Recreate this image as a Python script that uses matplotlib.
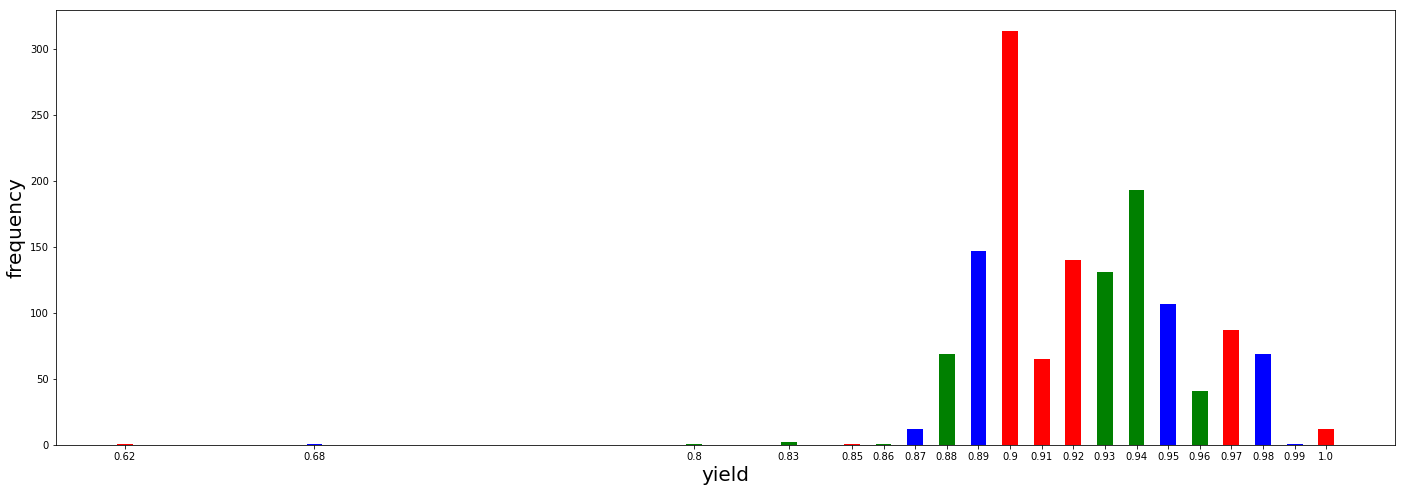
import matplotlib
matplotlib.use('Agg')
import matplotlib.pyplot as plt

# yield values and their frequencies
yields = [0.62, 0.68, 0.8, 0.83, 0.85, 0.86, 0.87, 0.88, 0.89, 0.9,
          0.91, 0.92, 0.93, 0.94, 0.95, 0.96, 0.97, 0.98, 0.99, 1.0]
counts = [1, 1, 1, 2, 1, 1, 12, 69, 147, 314,
          65, 140, 131, 193, 107, 41, 87, 69, 1, 12]
bar_colors = ['red', 'blue', 'green', 'green', 'red', 'green', 'blue', 'green', 'blue', 'red',
              'red', 'red', 'green', 'green', 'blue', 'green', 'red', 'blue', 'blue', 'red']
tick_labels = [str(y) for y in yields]

fig = plt.figure(figsize=(1406 / 72, 492 / 72), dpi=72)
ax = fig.add_axes([56 / 1406, 47 / 492, 1339 / 1406, 435 / 492])

ax.bar(yields, counts, width=0.005, color=bar_colors)
ax.set_xticks(yields)
ax.set_xticklabels(tick_labels, fontsize=10)
ax.tick_params(axis='y', labelsize=10)
ax.set_xlabel('yield', fontsize=20, labelpad=4)
ax.set_ylabel('frequency', fontsize=20)

plt.savefig('out.png', dpi=72)
